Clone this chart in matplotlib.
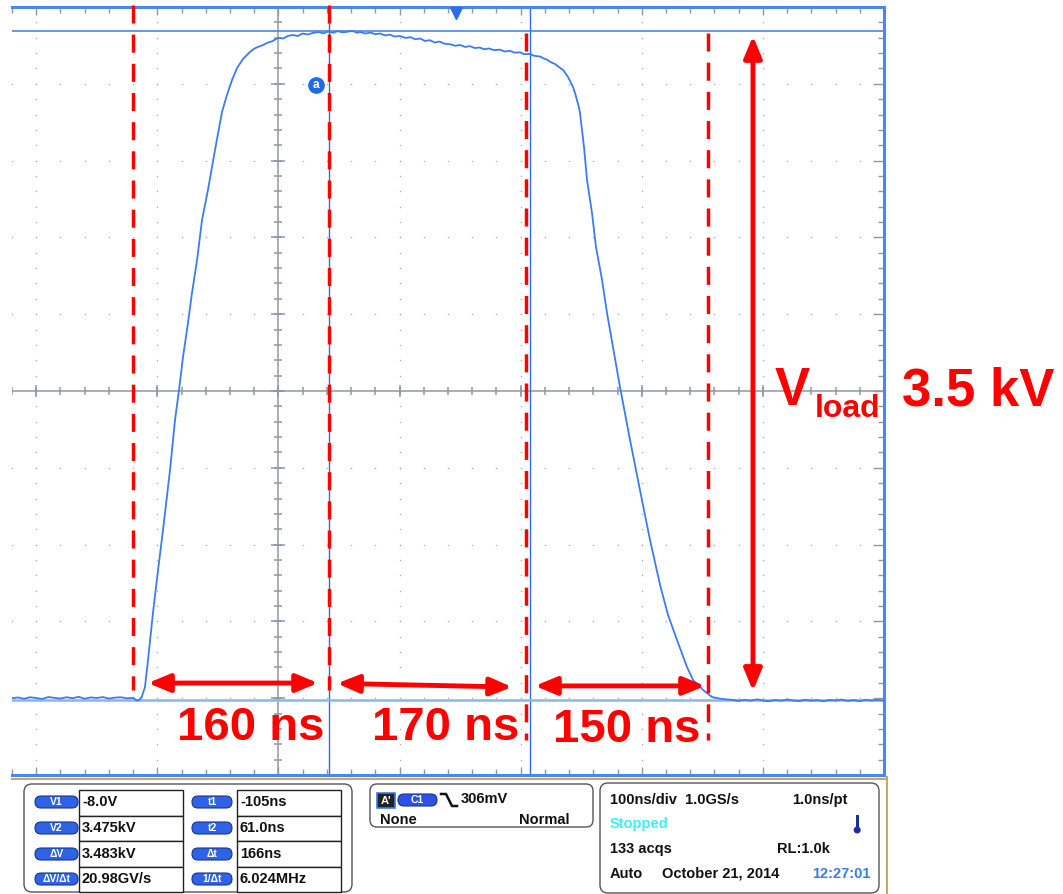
import numpy as np
import matplotlib
matplotlib.use("Agg")
import matplotlib.pyplot as plt
from matplotlib.patches import FancyBboxPatch, Rectangle, Circle
from matplotlib.lines import Line2D
from matplotlib.transforms import Affine2D

plt.rcParams['font.family'] = ['Liberation Sans', 'DejaVu Sans']

W, H, DPI = 1063, 894, 100

# --- waveform (time in ns, voltage in kV) ---
t_ns = [-367, -362, -357, -352, -347, -342, -337, -332, -327, -322, -317, -312,
        -307, -302, -297, -292, -287, -282, -277, -272, -267, -264, -262, -260,
        -257.2, -254.7, -250.6, -246.4, -242.3, -236.5, -232.4, -229.1, -225.8,
        -221.7, -218.4, -214.2, -210.1, -205.2, -199.4, -193.6, -189.5, -185.3,
        -181.2, -176.3, -170.5, -167, -163.9, -160, -156.4, -152, -147.4, -143,
        -139, -135.0, -131, -127, -123, -118.5, -114, -110, -106.1, -102, -98,
        -94, -90, -86, -82, -79.7, -75, -71, -67, -63.1, -59, -55, -51, -46.6,
        -42, -38, -34, -30, -26.0, -22, -18, -14, -10, -5.3, -1, 3, 7, 11, 15.3,
        19, 23, 27, 31, 35.9, 40, 44, 48, 52.5, 56, 60.7, 64, 69.0, 72, 74.7, 78,
        81.4, 84, 88.0, 90, 92.1, 94, 96.2, 98, 99.5, 101, 102.0, 105.3, 107.8,
        111.9, 115.2, 120.2, 124.3, 129.2, 135.0, 143.3, 151.5, 159.8, 168.1,
        174.7, 182.1, 190.3, 195.3, 203.6, 211.0, 219.2, 228.3, 233, 238, 243,
        248, 253, 258, 263, 268, 273, 278, 283, 288, 293, 298, 303, 308, 313,
        318, 323, 328, 333, 338, 343, 348, 353]
v_kv = [0.000, 0.004, -0.003, 0.005, 0.001, -0.004, 0.006, 0.002, -0.002, 0.005,
        0.000, 0.007, -0.003, 0.004, 0.001, 0.006, -0.002, 0.003, 0.005, -0.001,
        0.002, -0.012, -0.008, 0.004,
        0.058, 0.199, 0.444, 0.668, 0.876, 1.189, 1.449, 1.605, 1.777, 1.954,
        2.110, 2.282, 2.491, 2.647, 2.855, 3.053, 3.142, 3.220, 3.282, 3.329,
        3.366, 3.383, 3.392, 3.401, 3.413, 3.422, 3.439, 3.436, 3.450, 3.454,
        3.449, 3.462, 3.457, 3.465, 3.470, 3.463, 3.472, 3.466, 3.474, 3.468,
        3.471, 3.476, 3.466, 3.470, 3.462, 3.467, 3.458, 3.462, 3.452, 3.456,
        3.446, 3.449, 3.439, 3.443, 3.432, 3.436, 3.423, 3.427, 3.415, 3.420,
        3.409, 3.406, 3.398, 3.402, 3.392, 3.396, 3.386, 3.389, 3.380, 3.384,
        3.375, 3.378, 3.368, 3.372, 3.362, 3.364, 3.354, 3.356, 3.346, 3.342,
        3.332, 3.326, 3.312, 3.303, 3.290, 3.272, 3.255, 3.235, 3.212, 3.183,
        3.150, 3.116, 3.080, 3.048, 2.871, 2.699, 2.527, 2.350, 2.178, 2.006,
        1.829, 1.621, 1.345, 1.084, 0.824, 0.590, 0.433, 0.303, 0.163, 0.095,
        0.043, 0.006, -0.004, -0.009, -0.014, -0.008, -0.013, -0.006, -0.012,
        -0.016, -0.009, -0.013, -0.007, -0.012, -0.015, -0.008, -0.013, -0.010,
        -0.016, -0.009, -0.012, -0.007, -0.014, -0.010, -0.015, -0.008, -0.012,
        -0.009, -0.013]

# cursors
t_cursors = [-105, 61]
v1_cursor, v2_cursor = -0.008, 3.475

# red annotations
t_dashed = [-267.1, -105.3, 57.4, 207.7]
dash_top = [3.61, 3.61, 3.465, 3.465]
dash_bottom = [0.043, 0.043, -0.218, -0.218]

arrow_t0 = [-254.7, -98.6, 64.8]
arrow_t1 = [-114.3, 45.9, 205.2]
arrow_v0 = [0.079, 0.077, 0.064]
arrow_v1 = [0.079, 0.058, 0.064]
width_labels = ['160 ns', '170 ns', '150 ns']
label_t = [-169.7, -8.6, 140.4]
label_v = [-0.218, -0.218, -0.228]

vload_t = 244.8
vload_range = [0.038, 3.449]

# measurement panel
meas_names = ['V1', 'V2', 'ΔV', 'ΔV/Δt']
meas_values = ['-8.0V', '3.475kV', '3.483kV', '20.98GV/s']
time_names = ['t1', 't2', 'Δt', '1/Δt']
time_values = ['-105ns', '61.0ns', '166ns', '6.024MHz']

fig = plt.figure(figsize=(W / DPI, H / DPI), dpi=DPI)
pix = Affine2D().scale(1, -1).translate(0, H).scale(1 / DPI) + fig.dpi_scale_trans

ax = fig.add_axes([12 / W, (H - 775) / H, 872 / W, 768 / H])
ax.set_xlim(-367, 353)
ax.set_ylim(-0.4, 3.6)

grid_c = '#8e98a7'
dot_c = '#a3abb7'
# dotted graticule
t_major = np.arange(-347, 354, 100)
v_major = np.arange(-0.4, 3.61, 0.4)
t_minor = np.arange(-367, 354, 20)
v_minor = np.arange(-0.4, 3.61, 0.08)
for v in v_major[1:-1]:
    if abs(v - 1.6) > 1e-6:
        ax.plot(t_minor, np.full_like(t_minor, v, dtype=float), ls='none',
                marker='s', ms=0.9, mew=0, color=dot_c, zorder=1)
for t in t_major[:-1]:
    if t != -147:
        ax.plot(np.full_like(v_minor, t), v_minor, ls='none',
                marker='s', ms=0.9, mew=0, color=dot_c, zorder=1)

# centre axes with ticks
ax.axvline(-147, color=grid_c, lw=1.1, zorder=1)
ax.axhline(1.6, color=grid_c, lw=1.1, zorder=1)
ax.plot(t_minor, np.full_like(t_minor, 1.6, dtype=float), ls='none', marker='|',
        ms=6, mew=1.1, color=grid_c, zorder=1)
ax.plot(t_major, np.full_like(t_major, 1.6, dtype=float), ls='none', marker='|',
        ms=9, mew=1.1, color=grid_c, zorder=1)
ax.plot(np.full_like(v_minor, -147), v_minor, ls='none', marker='_',
        ms=6, mew=1.1, color=grid_c, zorder=1)
ax.plot(np.full_like(v_major, -147), v_major, ls='none', marker='_',
        ms=10, mew=1.1, color=grid_c, zorder=1)

# border ticks
ax.set_xticks(t_major)
ax.set_xticks(t_minor, minor=True)
ax.set_yticks(v_major)
ax.set_yticks(v_minor, minor=True)
ax.tick_params(which='both', direction='in', top=True, bottom=True, left=False,
               right=True, labelbottom=False, labelleft=False, color=grid_c, width=1)
ax.tick_params(which='major', length=6)
ax.tick_params(which='minor', length=4.5)
ax.tick_params(axis='y', which='major', length=8)
for side in ['top', 'right', 'bottom']:
    ax.spines[side].set_color('#4a88ee')
    ax.spines[side].set_linewidth(2.2)
ax.spines['left'].set_visible(False)

# cursors
for t in t_cursors:
    ax.axvline(t, color='#2a6ee8', lw=1.0, zorder=2)
ax.axhline(v2_cursor, color='#3d7be6', lw=1.1, zorder=2)
ax.axhline(v1_cursor, color='#8db4f0', lw=1.8, zorder=2)

# waveform
ax.plot(t_ns, v_kv, color='#3b7cf0', lw=1.3, zorder=3)

# marker "a" and trigger position
ax.plot([-116.0], [3.194], 'o', ms=11, color='#1f6ae6', zorder=4)
ax.text(-116.0, 3.194, 'a', color='white', fontsize=8.5, weight='bold',
        ha='center', va='center', zorder=5)
ax.plot([0], [3.569], 'v', ms=9, color='#2b6fe6', zorder=4, clip_on=False)

# red dashed lines
for t, v0, v1 in zip(t_dashed, dash_top, dash_bottom):
    ax.plot([t, t], [v0, v1], color='red', lw=2.5, ls=(0, (5.2, 3.2)),
            zorder=6, clip_on=False)

# width arrows and labels
for t0, t1, v0, v1 in zip(arrow_t0, arrow_t1, arrow_v0, arrow_v1):
    ax.annotate('', xy=(t1, v1), xytext=(t0, v0),
                arrowprops=dict(arrowstyle='<|-|>,head_length=0.65,head_width=0.27',
                                color='red', lw=3.5, shrinkA=0, shrinkB=0,
                                mutation_scale=20), zorder=6)
for s, t, v in zip(width_labels, label_t, label_v):
    ax.text(t, v, s, color='red', fontsize=34, weight='bold', ha='center',
            va='baseline', zorder=7)

ax.annotate('', xy=(vload_t, vload_range[1]), xytext=(vload_t, vload_range[0]),
            arrowprops=dict(arrowstyle='<|-|>,head_length=0.65,head_width=0.27',
                            color='red', lw=3.5, shrinkA=0, shrinkB=0,
                            mutation_scale=20), zorder=6)

fig.text(775, 405, 'V', transform=pix, color='red', fontsize=38, weight='bold',
         va='baseline', ha='left')
fig.text(815, 417, 'load', transform=pix, color='red', fontsize=23, weight='bold',
         va='baseline', ha='left')
fig.text(902, 405, '3.5 kV', transform=pix, color='red', fontsize=38, weight='bold',
         va='baseline', ha='left')

# frame below the screen
fig.add_artist(Line2D([12, 887], [778.5, 778.5], transform=pix, color='#c9a66b', lw=1.5))
fig.add_artist(Line2D([887, 887], [777, 894], transform=pix, color='#c9a66b', lw=1.5))


def box(x0, y0, x1, y1, r=0, fc='white', ec='#555555', lw=1.0):
    style = 'round,pad=0,rounding_size=%g' % r if r else 'square,pad=0'
    p = FancyBboxPatch((x0, y0), x1 - x0, y1 - y0, boxstyle=style, fc=fc, ec=ec,
                       lw=lw, transform=pix)
    fig.add_artist(p)


def label(x, y, s, color='#111111', size=10.5, ha='left'):
    fig.text(x, y, s, transform=pix, color=color, fontsize=size, weight='bold',
             ha=ha, va='center')


# measurement box
box(24, 784, 352, 892, r=8)
row_y = [802, 828, 854, 879]
row_edges = [790, 816, 841, 867, 892]
for cx0, cx1 in [(79, 183), (237, 341)]:
    for i in range(4):
        box(cx0, row_edges[i], cx1, row_edges[i + 1], ec='#222222', lw=1.0)
for i, y in enumerate(row_y):
    for px0, px1, name in [(35, 78, meas_names[i]), (192, 232, time_names[i])]:
        box(px0, y - 6, px1, y + 6, r=6, fc='#2f63e6', ec='#1a3590', lw=0.8)
        label((px0 + px1) / 2, y, name, color='white', size=7.5, ha='center')
    label(82, y, meas_values[i])
    label(240, y, time_values[i])

# trigger box
box(370, 784, 593, 827, r=7)
box(377, 793, 395, 808, fc='#222222', ec='#3b7be8', lw=1.2)
label(386, 800.5, "A'", color='white', size=8, ha='center')
box(398, 794, 437, 806, r=6, fc='#2f50e6', ec='#1a3590', lw=0.8)
label(417.5, 800, 'C1', color='white', size=7.5, ha='center')
fig.add_artist(Line2D([441, 446, 452, 457], [794, 794, 806, 806], transform=pix,
                      color='#111111', lw=1.8))
label(461, 799, '306mV')
label(380, 820, 'None')
label(569, 820, 'Normal', ha='right')

# acquisition box
box(600, 783, 879, 893, r=8)
label(610, 800, '100ns/div  1.0GS/s')
label(792, 800, '1.0ns/pt')
label(610, 824, 'Stopped', color='#3ef0f5')
fig.add_artist(Rectangle((855.5, 815), 3.5, 13, transform=pix, fc='#1f2c9c', ec='none'))
fig.add_artist(Circle((857.2, 830), 3.5, transform=pix, fc='#1f2c9c', ec='none'))
label(610, 849, '133 acqs')
label(777, 849, 'RL:1.0k')
label(610, 874, 'Auto')
label(662, 874, 'October 21, 2014')
label(812, 874, '12:27:01', color='#3a7de8')

fig.savefig('out.png', dpi=DPI)
